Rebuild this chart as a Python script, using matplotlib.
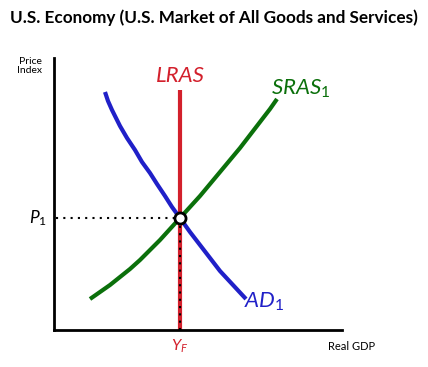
import matplotlib
matplotlib.use("Agg")
import matplotlib.pyplot as plt

plt.rcParams["font.family"] = ["Lato", "DejaVu Sans"]
plt.rcParams["mathtext.fontset"] = "custom"
plt.rcParams["mathtext.rm"] = "Lato"
plt.rcParams["mathtext.it"] = "Lato:italic"

# curve points (x = output, y = price level, arbitrary units)
sras_x = [36, 46, 56, 66, 76, 86, 96, 106, 116, 126, 136, 146, 156, 166, 176, 186, 196, 206, 216, 223]
sras_y = [31, 38, 45, 53, 61, 70, 80, 90, 101, 112, 123, 134, 146, 158, 170, 182, 195, 208, 221, 231]
ad_x = [51, 54, 58, 62, 66, 73, 81, 88, 96, 103, 111, 118, 126, 136, 146, 156, 166, 179, 192]
ad_y = [238, 229, 220, 212, 204, 192, 180, 168, 157, 146, 134, 123, 112, 98, 85, 72, 59, 45, 31]
lras_x = 126
lras_top = 240
eq_x, eq_y = 126, 112

blue = "#2020c8"
green = "#0b700b"
red = "#d3202c"

fig = plt.figure(figsize=(4.28, 3.67), dpi=100)
ax = fig.add_axes([54 / 428, 37 / 367, 288 / 428, 272 / 367])
ax.set_xlim(0, 288)
ax.set_ylim(0, 272)
for s in ["top", "right"]:
    ax.spines[s].set_visible(False)
ax.spines["left"].set_linewidth(2)
ax.spines["bottom"].set_linewidth(2)
ax.set_xticks([])
ax.set_yticks([])

ax.plot([lras_x, lras_x], [0, lras_top], color=red, lw=3, solid_capstyle="butt", zorder=2)
ax.plot(sras_x, sras_y, color=green, lw=3, solid_capstyle="butt", zorder=3)
ax.plot(ad_x, ad_y, color=blue, lw=3, solid_capstyle="butt", zorder=3)
ax.plot([2, eq_x], [eq_y, eq_y], color="black", lw=1.5, ls=(0, (1, 2.5)), zorder=4)
ax.plot([eq_x, eq_x], [0, eq_y], color="black", lw=1.5, ls=(0, (1, 2.5)), zorder=4)
ax.plot([eq_x], [eq_y], "o", ms=8, mfc="white", mec="black", mew=2, zorder=5)

ax.text(lras_x, 244, "LRAS", color=red, fontsize=16, style="italic", ha="center", va="bottom")
ax.text(217, 230, r"SRAS$_1$", color=green, fontsize=16, style="italic", ha="left", va="bottom")
ax.text(190, 28, r"AD$_1$", color=blue, fontsize=16, style="italic", ha="left", va="center")
ax.text(-7, eq_y, r"P$_1$", fontsize=12.5, style="italic", ha="right", va="center")
ax.text(lras_x, -8, r"Y$_F$", color=red, fontsize=11.5, style="italic", ha="center", va="top")
ax.text(-24, 264, "Price\nIndex", fontsize=7.5, ha="center", va="center", linespacing=0.9)
ax.text(298, -17, "Real GDP", fontsize=8, ha="center", va="center")

fig.text(0.5, 1 - 18 / 367, "U.S. Economy (U.S. Market of All Goods and Services)",
         fontsize=12.3, fontweight="bold", ha="center", va="center")

fig.savefig("out.png", dpi=100)
